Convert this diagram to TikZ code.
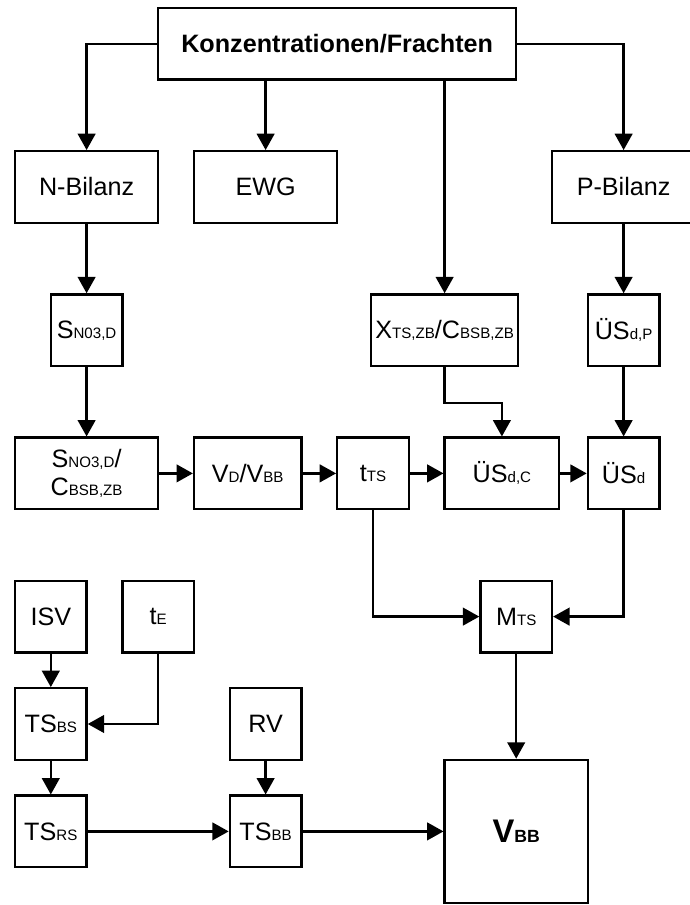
\documentclass[tikz,border=0pt]{standalone}
\usepackage{fontspec}
\setmainfont{Liberation Sans}
\usetikzlibrary{arrows.meta}
\newcommand{\subtxt}[1]{{\fontsize{6}{6}\selectfont #1}}

\begin{document}
\begin{tikzpicture}[x=0.5cm,y=0.5cm]
  \tikzset{flowbox/.style={draw=black,line width=0.9pt,rectangle,inner sep=1pt,minimum width=1cm,minimum height=1cm,align=center,font=\fontsize{10}{11}\selectfont}}
  \tikzset{flowedge/.style={draw=black,line width=0.9pt,-{Triangle[width=7pt,length=6.5pt]}}}
  \useasboundingbox (-0.419,0.223) rectangle (18.827,-25.056);
  % top
  \node[flowbox,minimum width=5cm,font=\fontsize{10}{11}\selectfont\bfseries] (kf) at (9,-1) {Konzentrationen/Frachten};
  \node[flowbox,minimum width=2cm] (nbil) at (2,-5) {N-Bilanz};
  \node[flowbox,minimum width=2cm] (ewg) at (7,-5) {EWG};
  \node[flowbox,minimum width=2cm] (pbil) at (17,-5) {P-Bilanz};
  % second row
  \node[flowbox] (sno) at (2,-9) {S\subtxt{N03,D}};
  \node[flowbox,minimum width=2.05cm] (xts) at (12,-9) {X\subtxt{TS,ZB}/C\subtxt{BSB,ZB}};
  \node[flowbox] (usdp) at (17,-9) {ÜS\subtxt{d,P}};
  % third row
  \node[flowbox,minimum width=2cm] (snc) at (2,-13) {S\subtxt{NO3,D}/\\C\subtxt{BSB,ZB}};
  \node[flowbox,minimum width=1.5cm] (vdv) at (6.5,-13) {V\subtxt{D}/V\subtxt{BB}};
  \node[flowbox] (tts) at (10,-13) {t\subtxt{TS}};
  \node[flowbox,minimum width=1.6cm] (usdc) at (13.6,-13) {ÜS\subtxt{d,C}};
  \node[flowbox] (usd) at (17,-13) {ÜS\subtxt{d}};
  % lower part
  \node[flowbox] (mts) at (14,-17) {M\subtxt{TS}};
  \node[flowbox] (isv) at (1,-17) {ISV};
  \node[flowbox] (te) at (4,-17) {t\subtxt{E}};
  \node[flowbox] (tsbs) at (1,-20) {TS\subtxt{BS}};
  \node[flowbox] (rv) at (7,-20) {RV};
  \node[flowbox] (tsrs) at (1,-23) {TS\subtxt{RS}};
  \node[flowbox] (tsbb) at (7,-23) {TS\subtxt{BB}};
  \node[flowbox,minimum width=2cm,minimum height=2cm] (vbb) at (14,-23) {{\fontsize{13}{13}\selectfont\bfseries V}{\fontsize{7}{7}\selectfont\bfseries BB}};
  % connectors
  \draw[flowedge] (kf.west) -| (nbil.north);
  \draw[flowedge] (kf.south -| ewg.north) -- (ewg.north);
  \draw[flowedge] (kf.south -| xts.north) -- (xts.north);
  \draw[flowedge] (kf.east) -| (pbil.north);
  \draw[flowedge] (nbil.south) -- (sno.north);
  \draw[flowedge] (pbil.south) -- (usdp.north);
  \draw[flowedge] (sno.south) -- (snc.north);
  \draw[flowedge] (xts.south) -- ++(0,-1) -| (usdc.north);
  \draw[flowedge] (usdp.south) -- (usd.north);
  \draw[flowedge] (snc.east) -- (vdv.west);
  \draw[flowedge] (vdv.east) -- (tts.west);
  \draw[flowedge] (tts.east) -- (usdc.west);
  \draw[flowedge] (usdc.east) -- (usd.west);
  \draw[flowedge] (tts.south) |- (mts.west);
  \draw[flowedge] (usd.south) |- (mts.east);
  \draw[flowedge] (mts.south) -- (vbb.north);
  \draw[flowedge] (isv.south) -- (tsbs.north);
  \draw[flowedge] (te.south) |- (tsbs.east);
  \draw[flowedge] (tsbs.south) -- (tsrs.north);
  \draw[flowedge] (rv.south) -- (tsbb.north);
  \draw[flowedge] (tsrs.east) -- (tsbb.west);
  \draw[flowedge] (tsbb.east) -- (vbb.west);
\end{tikzpicture}
\end{document}
